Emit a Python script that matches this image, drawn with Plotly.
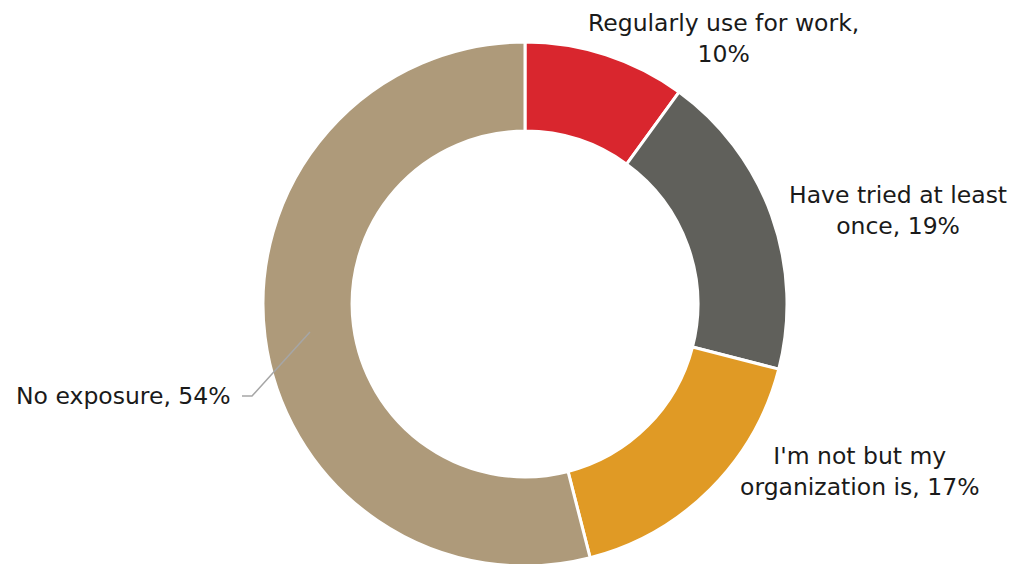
import plotly.graph_objects as go

labels = ["Regularly use for work", "Have tried at least once", "I'm not but my organization is", "No exposure"]
values = [10, 19, 17, 54]
colors = ["#D9262E", "#60605B", "#E09A25", "#AE9A7A"]
label_text = ["Regularly use for work,<br>10%", "Have tried at least<br>once, 19%",
              "I'm not but my<br>organization is, 17%", "No exposure, 54%"]

W, H = 1020, 564
OFF = 8  # page body margin
ML, MR, MT, MB = 14, 0, 34, 6
PW, PH = W - ML - MR, H - MT - MB
FONT = "DejaVu Sans"

fig = go.Figure(go.Pie(
    labels=labels, values=values, hole=0.66, sort=False, direction="clockwise",
    rotation=0, marker=dict(colors=colors, line=dict(color="white", width=3)),
    textinfo="none", hoverinfo="label+percent", showlegend=False,
    domain=dict(x=[0, 1], y=[0, 1]),
))

def px(x, y):
    return (x - OFF - ML) / PW, 1 - (y - OFF - MT) / PH

ann_pos = [(723, 38, "center"), (898, 211, "center"), (860, 471, "center"), (233, 396, "right")]
anns = []
for (x, y, anc), t in zip(ann_pos, label_text):
    ax, ay = px(x, y)
    anns.append(dict(x=ax, y=ay, xref="paper", yref="paper", text=t, showarrow=False,
                     xanchor=anc, yanchor="middle", align="center",
                     font=dict(family=FONT, size=23.5, color="#1a1a1a")))

x0, y0 = px(242, 396)
x1, y1 = px(252, 396)
x2, y2 = px(310, 332)
fig.add_shape(type="path", xref="paper", yref="paper",
              path=f"M {x0} {y0} L {x1} {y1} L {x2} {y2}",
              line=dict(color="#A6A6A6", width=1.5))

fig.update_layout(
    width=W, height=H, margin=dict(l=ML, r=MR, t=MT, b=MB),
    paper_bgcolor="white", plot_bgcolor="white",
    annotations=anns, font=dict(family=FONT),
)
fig.write_html("out.html")
